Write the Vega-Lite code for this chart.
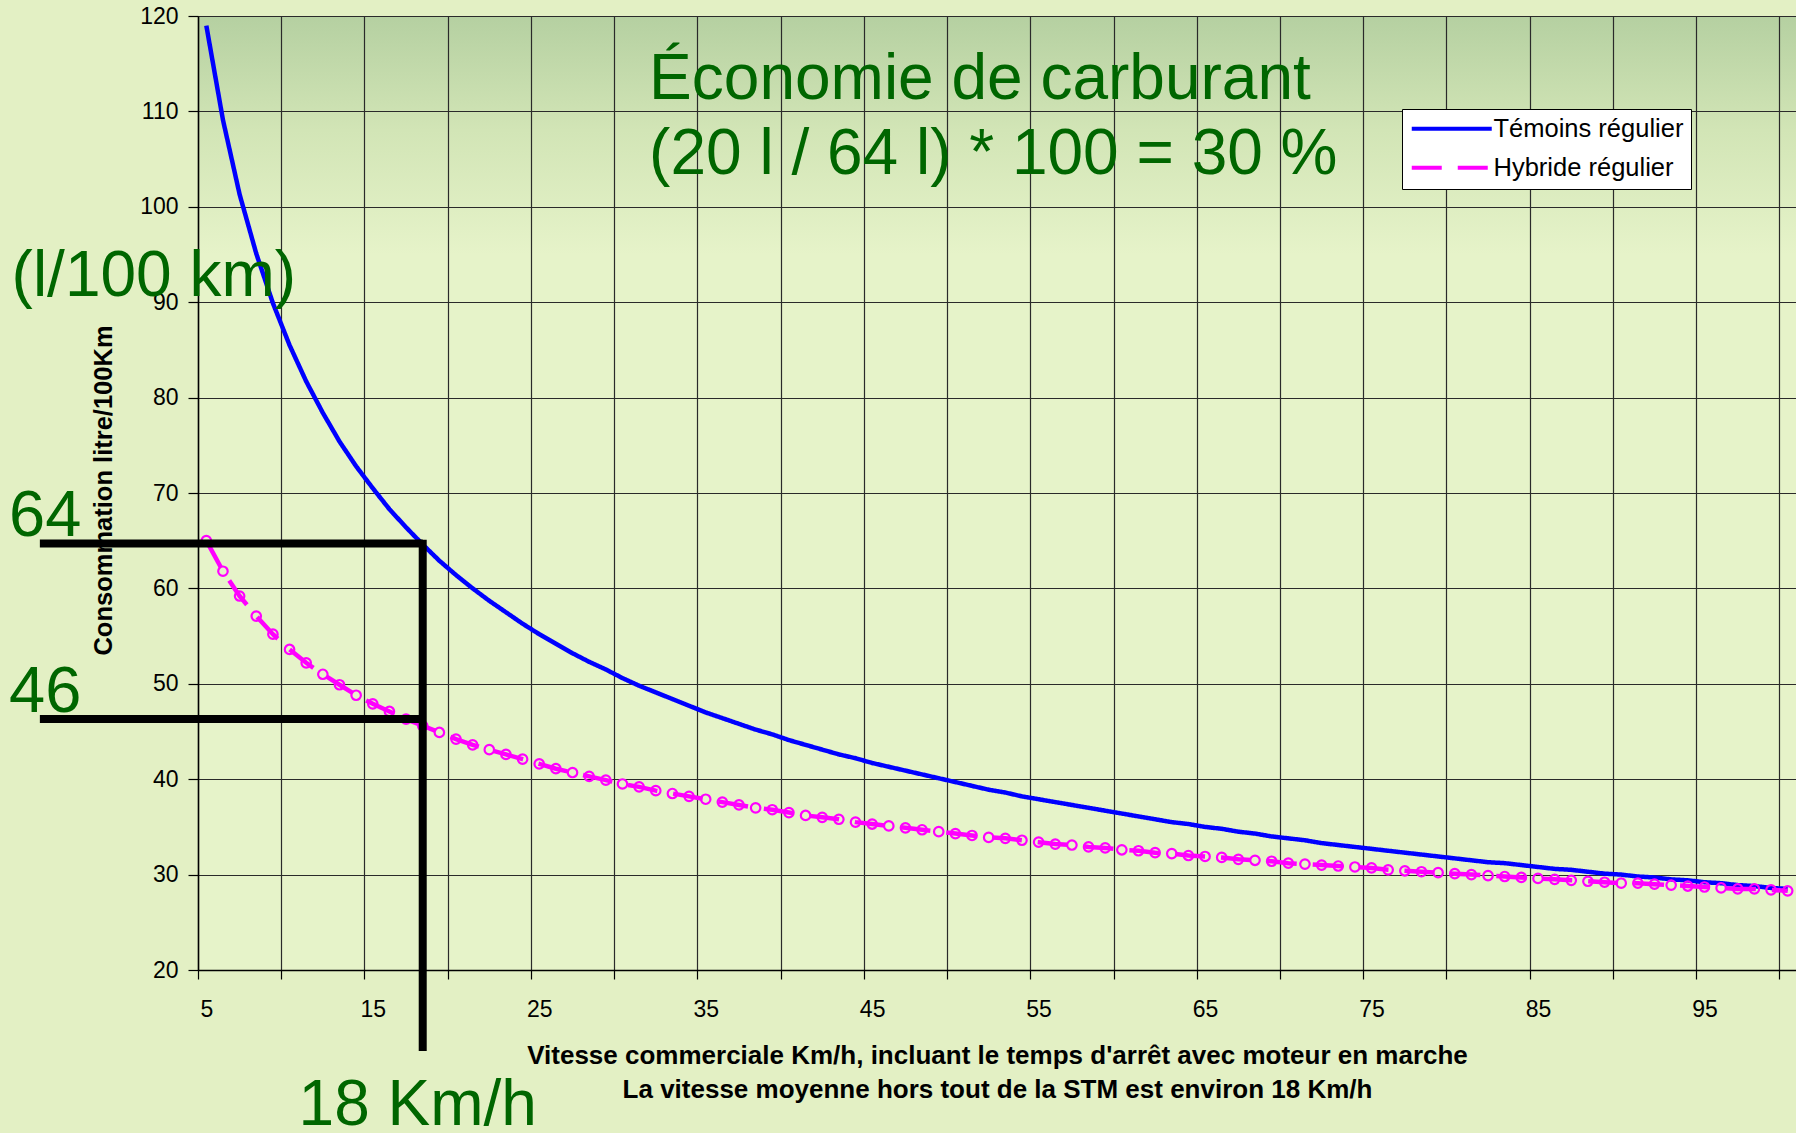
{
  "$schema": "https://vega.github.io/schema/vega-lite/v6.json",
  "width": 1598,
  "height": 954,
  "autosize": {"type": "none"},
  "padding": {"left": 198, "top": 16, "right": 0, "bottom": 163},
  "background": "#e3f0c4",
  "config": {
    "font": "Liberation Sans",
    "view": {"stroke": null, "fill": {"gradient": "linear", "x1": 0, "y1": 0, "x2": 0, "y2": 1, "stops": [{"offset": 0, "color": "#b5d0a1"}, {"offset": 0.12, "color": "#d2e5b6"}, {"offset": 0.25, "color": "#e6f3c9"}, {"offset": 1, "color": "#e6f3c9"}]}},
    "legend": {
      "orient": "none", "legendX": 1204, "legendY": 93, "direction": "vertical",
      "fillColor": "#ffffff", "strokeColor": "#000000", "padding": 7,
      "labelFontSize": 25.5, "labelColor": "#000000", "labelFont": "Liberation Sans", "labelLimit": 400, "labelOffset": 29,
      "symbolSize": 400, "symbolStrokeWidth": 4, "symbolType": "M-4,0H4", "symbolOffset": 30, "rowPadding": 12
    }
  },
  "data": {"values": [
    {"v":5,"Témoins régulier":119.0,"Hybride régulier":65.0},
    {"v":6,"Témoins régulier":109.1,"Hybride régulier":61.8},
    {"v":7,"Témoins régulier":101.3,"Hybride régulier":59.2},
    {"v":8,"Témoins régulier":95.1,"Hybride régulier":57.1},
    {"v":9,"Témoins régulier":89.9,"Hybride régulier":55.2},
    {"v":10,"Témoins régulier":85.5,"Hybride régulier":53.6},
    {"v":11,"Témoins régulier":81.7,"Hybride régulier":52.2},
    {"v":12,"Témoins régulier":78.4,"Hybride régulier":51.0},
    {"v":13,"Témoins régulier":75.4,"Hybride régulier":49.9},
    {"v":14,"Témoins régulier":72.8,"Hybride régulier":48.8},
    {"v":15,"Témoins régulier":70.5,"Hybride régulier":47.9},
    {"v":16,"Témoins régulier":68.3,"Hybride régulier":47.1},
    {"v":17,"Témoins régulier":66.4,"Hybride régulier":46.3},
    {"v":18,"Témoins régulier":64.6,"Hybride régulier":45.6},
    {"v":19,"Témoins régulier":62.9,"Hybride régulier":44.9},
    {"v":20,"Témoins régulier":61.4,"Hybride régulier":44.2},
    {"v":21,"Témoins régulier":60.0,"Hybride régulier":43.6},
    {"v":22,"Témoins régulier":58.7,"Hybride régulier":43.1},
    {"v":23,"Témoins régulier":57.5,"Hybride régulier":42.6},
    {"v":24,"Témoins régulier":56.3,"Hybride régulier":42.1},
    {"v":25,"Témoins régulier":55.2,"Hybride régulier":41.6},
    {"v":26,"Témoins régulier":54.2,"Hybride régulier":41.1},
    {"v":27,"Témoins régulier":53.2,"Hybride régulier":40.7},
    {"v":28,"Témoins régulier":52.3,"Hybride régulier":40.3},
    {"v":29,"Témoins régulier":51.5,"Hybride régulier":39.9},
    {"v":30,"Témoins régulier":50.6,"Hybride régulier":39.5},
    {"v":31,"Témoins régulier":49.8,"Hybride régulier":39.2},
    {"v":32,"Témoins régulier":49.1,"Hybride régulier":38.8},
    {"v":33,"Témoins régulier":48.4,"Hybride régulier":38.5},
    {"v":34,"Témoins régulier":47.7,"Hybride régulier":38.2},
    {"v":35,"Témoins régulier":47.0,"Hybride régulier":37.9},
    {"v":36,"Témoins régulier":46.4,"Hybride régulier":37.6},
    {"v":37,"Témoins régulier":45.8,"Hybride régulier":37.3},
    {"v":38,"Témoins régulier":45.2,"Hybride régulier":37.0},
    {"v":39,"Témoins régulier":44.7,"Hybride régulier":36.8},
    {"v":40,"Témoins régulier":44.1,"Hybride régulier":36.5},
    {"v":41,"Témoins régulier":43.6,"Hybride régulier":36.2},
    {"v":42,"Témoins régulier":43.1,"Hybride régulier":36.0},
    {"v":43,"Témoins régulier":42.6,"Hybride régulier":35.8},
    {"v":44,"Témoins régulier":42.2,"Hybride régulier":35.5},
    {"v":45,"Témoins régulier":41.7,"Hybride régulier":35.3},
    {"v":46,"Témoins régulier":41.3,"Hybride régulier":35.1},
    {"v":47,"Témoins régulier":40.9,"Hybride régulier":34.9},
    {"v":48,"Témoins régulier":40.5,"Hybride régulier":34.7},
    {"v":49,"Témoins régulier":40.1,"Hybride régulier":34.5},
    {"v":50,"Témoins régulier":39.7,"Hybride régulier":34.3},
    {"v":51,"Témoins régulier":39.3,"Hybride régulier":34.1},
    {"v":52,"Témoins régulier":38.9,"Hybride régulier":33.9},
    {"v":53,"Témoins régulier":38.6,"Hybride régulier":33.8},
    {"v":54,"Témoins régulier":38.2,"Hybride régulier":33.6},
    {"v":55,"Témoins régulier":37.9,"Hybride régulier":33.4},
    {"v":56,"Témoins régulier":37.6,"Hybride régulier":33.2},
    {"v":57,"Témoins régulier":37.3,"Hybride régulier":33.1},
    {"v":58,"Témoins régulier":37.0,"Hybride régulier":32.9},
    {"v":59,"Témoins régulier":36.7,"Hybride régulier":32.8},
    {"v":60,"Témoins régulier":36.4,"Hybride régulier":32.6},
    {"v":61,"Témoins régulier":36.1,"Hybride régulier":32.5},
    {"v":62,"Témoins régulier":35.8,"Hybride régulier":32.3},
    {"v":63,"Témoins régulier":35.5,"Hybride régulier":32.2},
    {"v":64,"Témoins régulier":35.3,"Hybride régulier":32.0},
    {"v":65,"Témoins régulier":35.0,"Hybride régulier":31.9},
    {"v":66,"Témoins régulier":34.8,"Hybride régulier":31.8},
    {"v":67,"Témoins régulier":34.5,"Hybride régulier":31.6},
    {"v":68,"Témoins régulier":34.3,"Hybride régulier":31.5},
    {"v":69,"Témoins régulier":34.0,"Hybride régulier":31.4},
    {"v":70,"Témoins régulier":33.8,"Hybride régulier":31.2},
    {"v":71,"Témoins régulier":33.6,"Hybride régulier":31.1},
    {"v":72,"Témoins régulier":33.3,"Hybride régulier":31.0},
    {"v":73,"Témoins régulier":33.1,"Hybride régulier":30.9},
    {"v":74,"Témoins régulier":32.9,"Hybride régulier":30.8},
    {"v":75,"Témoins régulier":32.7,"Hybride régulier":30.7},
    {"v":76,"Témoins régulier":32.5,"Hybride régulier":30.5},
    {"v":77,"Témoins régulier":32.3,"Hybride régulier":30.4},
    {"v":78,"Témoins régulier":32.1,"Hybride régulier":30.3},
    {"v":79,"Témoins régulier":31.9,"Hybride régulier":30.2},
    {"v":80,"Témoins régulier":31.7,"Hybride régulier":30.1},
    {"v":81,"Témoins régulier":31.5,"Hybride régulier":30.0},
    {"v":82,"Témoins régulier":31.3,"Hybride régulier":29.9},
    {"v":83,"Témoins régulier":31.2,"Hybride régulier":29.8},
    {"v":84,"Témoins régulier":31.0,"Hybride régulier":29.7},
    {"v":85,"Témoins régulier":30.8,"Hybride régulier":29.6},
    {"v":86,"Témoins régulier":30.6,"Hybride régulier":29.5},
    {"v":87,"Témoins régulier":30.5,"Hybride régulier":29.4},
    {"v":88,"Témoins régulier":30.3,"Hybride régulier":29.3},
    {"v":89,"Témoins régulier":30.1,"Hybride régulier":29.2},
    {"v":90,"Témoins régulier":30.0,"Hybride régulier":29.1},
    {"v":91,"Témoins régulier":29.8,"Hybride régulier":29.1},
    {"v":92,"Témoins régulier":29.7,"Hybride régulier":29.0},
    {"v":93,"Témoins régulier":29.5,"Hybride régulier":28.9},
    {"v":94,"Témoins régulier":29.4,"Hybride régulier":28.8},
    {"v":95,"Témoins régulier":29.2,"Hybride régulier":28.7},
    {"v":96,"Témoins régulier":29.1,"Hybride régulier":28.6},
    {"v":97,"Témoins régulier":28.9,"Hybride régulier":28.5},
    {"v":98,"Témoins régulier":28.8,"Hybride régulier":28.5},
    {"v":99,"Témoins régulier":28.6,"Hybride régulier":28.4},
    {"v":100,"Témoins régulier":28.5,"Hybride régulier":28.3}
  ]},
  "transform": [{"fold": ["Témoins régulier", "Hybride régulier"], "as": ["serie", "conso"]}],
  "layer": [
    {
      "mark": {"type": "line", "strokeWidth": 4.5, "clip": false},
      "encoding": {
        "x": {
          "field": "v", "type": "quantitative",
          "scale": {"domain": [4.5, 100.5], "nice": false, "zero": false},
          "axis": {
            "values": [4.5, 5, 9.5, 14.5, 15, 19.5, 24.5, 25, 29.5, 34.5, 35, 39.5, 44.5, 45, 49.5, 54.5, 55, 59.5, 64.5, 65, 69.5, 74.5, 75, 79.5, 84.5, 85, 89.5, 94.5, 95, 99.5],
            "labelExpr": "datum.value % 1 == 0 ? datum.label : ''",
            "grid": true,
            "gridColor": "#2a2a2a", "gridWidth": 1.2,
            "gridOpacity": {"condition": {"test": "datum.value % 1 == 0", "value": 0}, "value": 1},
            "tickOpacity": {"condition": {"test": "datum.value % 1 == 0", "value": 0}, "value": 1},
            "domainColor": "#000000", "domainWidth": 1.5,
            "tickColor": "#000000", "tickSize": 9, "tickWidth": 1.2,
            "labelFontSize": 23, "labelColor": "#000000", "labelPadding": 19,
            "labelFlush": false, "labelOverlap": false, "labelBound": false,
            "title": ["Vitesse commerciale Km/h, incluant le temps d'arrêt avec moteur en marche", "La vitesse moyenne hors tout de la STM est environ 18 Km/h"],
            "titleFontSize": 26, "titleFontWeight": "bold", "titleColor": "#000000",
            "titleLineHeight": 34, "titleY": 93, "titleBaseline": "alphabetic"
          }
        },
        "y": {
          "field": "conso", "type": "quantitative",
          "scale": {"domain": [20, 120], "nice": false, "zero": false},
          "axis": {
            "values": [20, 30, 40, 50, 60, 70, 80, 90, 100, 110, 120],
            "grid": true, "gridColor": "#2a2a2a", "gridWidth": 1.2,
            "domainColor": "#000000", "domainWidth": 1.5,
            "tickColor": "#000000", "tickSize": 10, "tickWidth": 1.2,
            "labelFontSize": 23, "labelColor": "#000000", "labelPadding": 10, "labelFlush": false,
            "title": "Consommation litre/100Km",
            "titleFontSize": 25.5, "titleFontWeight": "bold", "titleColor": "#000000",
            "titleX": -95, "titleY": 474, "titleAngle": -90, "titleAlign": "center", "titleBaseline": "middle"
          }
        },
        "color": {
          "field": "serie", "type": "nominal",
          "scale": {"domain": ["Témoins régulier", "Hybride régulier"], "range": ["#0000ff", "#ff00ff"]},
          "legend": {"title": null}
        },
        "strokeDash": {
          "field": "serie", "type": "nominal",
          "scale": {"domain": ["Témoins régulier", "Hybride régulier"], "range": [[1, 0], [30, 16]]},
          "legend": {"title": null}
        }
      }
    },
    {
      "transform": [{"filter": "datum.serie == 'Hybride régulier'"}],
      "mark": {"type": "point", "shape": "circle", "filled": false, "size": 90, "strokeWidth": 2.2, "color": "#ff00ff", "opacity": 1, "clip": false},
      "encoding": {
        "x": {"field": "v", "type": "quantitative", "scale": {"domain": [4.5, 100.5], "nice": false, "zero": false}},
        "y": {"field": "conso", "type": "quantitative", "scale": {"domain": [20, 120], "nice": false, "zero": false}}
      }
    },
    {
      "data": {"values": [{}]},
      "mark": {"type": "text", "text": "Économie de carburant", "fontSize": 64, "color": "#006600", "align": "left", "baseline": "alphabetic", "clip": false},
      "encoding": {
        "x": {"datum": 31.6, "type": "quantitative", "scale": {"domain": [4.5, 100.5], "nice": false, "zero": false}},
        "y": {"datum": 111.35, "type": "quantitative", "scale": {"domain": [20, 120], "nice": false, "zero": false}}
      }
    },
    {
      "data": {"values": [{}]},
      "mark": {"type": "text", "text": "(20 l / 64 l) * 100 = 30 %", "fontSize": 64, "color": "#006600", "align": "left", "baseline": "alphabetic", "clip": false},
      "encoding": {
        "x": {"datum": 31.6, "type": "quantitative", "scale": {"domain": [4.5, 100.5], "nice": false, "zero": false}},
        "y": {"datum": 103.4, "type": "quantitative", "scale": {"domain": [20, 120], "nice": false, "zero": false}}
      }
    },
    {
      "data": {"values": [{}]},
      "mark": {"type": "text", "text": "(l/100 km)", "fontSize": 64, "color": "#006600", "align": "left", "baseline": "alphabetic", "clip": false},
      "encoding": {
        "x": {"datum": -6.7, "type": "quantitative", "scale": {"domain": [4.5, 100.5], "nice": false, "zero": false}},
        "y": {"datum": 90.7, "type": "quantitative", "scale": {"domain": [20, 120], "nice": false, "zero": false}}
      }
    },
    {
      "data": {"values": [{}]},
      "mark": {"type": "text", "text": "64", "fontSize": 65, "color": "#006600", "align": "left", "baseline": "alphabetic", "clip": false},
      "encoding": {
        "x": {"datum": -6.85, "type": "quantitative", "scale": {"domain": [4.5, 100.5], "nice": false, "zero": false}},
        "y": {"datum": 65.5, "type": "quantitative", "scale": {"domain": [20, 120], "nice": false, "zero": false}}
      }
    },
    {
      "data": {"values": [{}]},
      "mark": {"type": "text", "text": "46", "fontSize": 65, "color": "#006600", "align": "left", "baseline": "alphabetic", "clip": false},
      "encoding": {
        "x": {"datum": -6.85, "type": "quantitative", "scale": {"domain": [4.5, 100.5], "nice": false, "zero": false}},
        "y": {"datum": 47.0, "type": "quantitative", "scale": {"domain": [20, 120], "nice": false, "zero": false}}
      }
    },
    {
      "data": {"values": [{}]},
      "mark": {"type": "text", "text": "18 Km/h", "fontSize": 64, "color": "#006600", "align": "center", "baseline": "alphabetic", "clip": false},
      "encoding": {
        "x": {"datum": 17.7, "type": "quantitative", "scale": {"domain": [4.5, 100.5], "nice": false, "zero": false}},
        "y": {"datum": 3.8, "type": "quantitative", "scale": {"domain": [20, 120], "nice": false, "zero": false}}
      }
    },
    {
      "data": {"values": [{}]},
      "mark": {"type": "rule", "color": "#000000", "strokeWidth": 8, "clip": false},
      "encoding": {
        "x": {"datum": -5, "type": "quantitative", "scale": {"domain": [4.5, 100.5], "nice": false, "zero": false}},
        "x2": {"datum": 18},
        "y": {"datum": 64.7, "type": "quantitative", "scale": {"domain": [20, 120], "nice": false, "zero": false}}
      }
    },
    {
      "data": {"values": [{}]},
      "mark": {"type": "rule", "color": "#000000", "strokeWidth": 8, "clip": false},
      "encoding": {
        "x": {"datum": -5, "type": "quantitative", "scale": {"domain": [4.5, 100.5], "nice": false, "zero": false}},
        "x2": {"datum": 17.8},
        "y": {"datum": 46.3, "type": "quantitative", "scale": {"domain": [20, 120], "nice": false, "zero": false}}
      }
    },
    {
      "data": {"values": [{}]},
      "mark": {"type": "rule", "color": "#000000", "strokeWidth": 8, "clip": false},
      "encoding": {
        "x": {"datum": 18, "type": "quantitative", "scale": {"domain": [4.5, 100.5], "nice": false, "zero": false}},
        "y": {"datum": 65.1, "type": "quantitative", "scale": {"domain": [20, 120], "nice": false, "zero": false}},
        "y2": {"datum": 11.5}
      }
    }
  ]
}
